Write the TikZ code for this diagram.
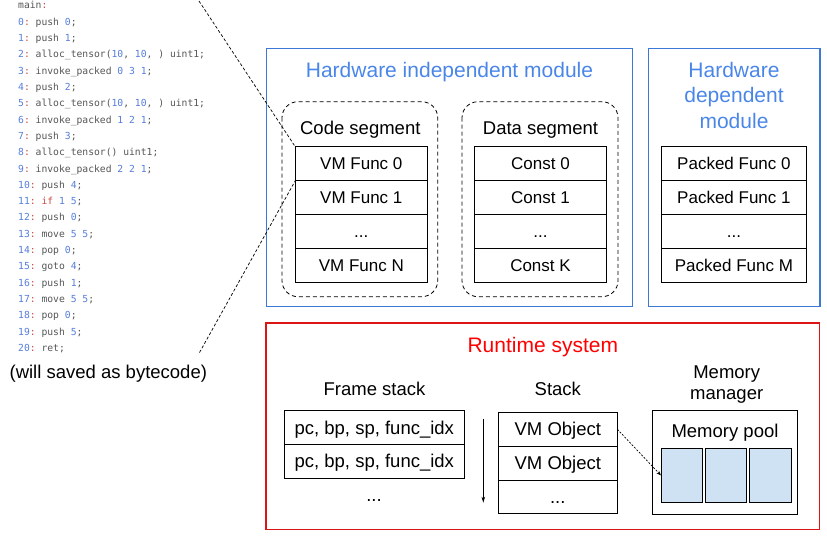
\documentclass[tikz,border=0pt]{standalone}
\usepackage{fontspec}
\setmainfont{Liberation Sans}
\setmonofont{DejaVu Sans Mono}
\usepackage{tikz}
\usetikzlibrary{positioning}
\usetikzlibrary{arrows.meta}

\definecolor{hwblue}{RGB}{60,120,216}
\definecolor{hwtext}{RGB}{74,134,232}
\definecolor{rtred}{RGB}{220,20,20}
\definecolor{poolblue}{RGB}{207,226,243}
\definecolor{codeblue}{RGB}{85,125,220}
\definecolor{codegray}{RGB}{85,85,85}
\definecolor{codered}{RGB}{205,75,75}

\newcommand{\fsz}[2]{\fontsize{#1}{#2}\selectfont}
\newcommand{\lno}[1]{\textcolor{codeblue}{#1}\textcolor{codered}{:}}
\newcommand{\cn}[1]{\textcolor{codeblue}{#1}}

\begin{document}
\begin{tikzpicture}[x=1pt, y=-1pt,
    modbox/.style = {draw=hwblue, line width=1.6pt},
    segbox/.style = {draw, dash pattern=on 4pt off 3pt, rounded corners=16pt, line width=0.8pt},
    cell/.style = {draw, line width=0.8pt, outer sep=0pt, inner sep=0pt, minimum height=33.9pt, text height=12.2pt, text depth=0pt, font=\fsz{17}{20}},
    rtcell/.style = {cell, minimum height=33.8pt, text height=13.2pt, font=\fsz{18.5}{21}},
    poolcell/.style = {draw, fill=poolblue, line width=0.8pt, outer sep=0pt, minimum width=41.3pt, minimum height=54.4pt},
    heading/.style = {anchor=base, font=\fsz{18.5}{21}},
    modtitle/.style = {font=\fsz{21}{25.3}, text=hwtext},
    codeline/.style = {anchor=base west, inner sep=0pt, text=codegray, font=\ttfamily\fsz{9.7}{16.33}},
    link/.style = {dash pattern=on 3pt off 2pt, line width=0.7pt}]
    \useasboundingbox (0,0) rectangle (827,539);

    % bytecode listing
    \foreach \txt [count=\i from 0] in {
        {main\textcolor{codered}{:}},
        {\lno{0} push \cn{0};},
        {\lno{1} push \cn{1};},
        {\lno{2} alloc\_tensor(\cn{10}, \cn{10}, ) uint1;},
        {\lno{3} invoke\_packed \cn{0} \cn{3} \cn{1};},
        {\lno{4} push \cn{2};},
        {\lno{5} alloc\_tensor(\cn{10}, \cn{10}, ) uint1;},
        {\lno{6} invoke\_packed \cn{1} \cn{2} \cn{1};},
        {\lno{7} push \cn{3};},
        {\lno{8} alloc\_tensor() uint1;},
        {\lno{9} invoke\_packed \cn{2} \cn{2} \cn{1};},
        {\lno{10} push \cn{4};},
        {\lno{11} \textcolor{codered}{if} \cn{1} \cn{5};},
        {\lno{12} push \cn{0};},
        {\lno{13} move \cn{5} \cn{5};},
        {\lno{14} pop \cn{0};},
        {\lno{15} goto \cn{4};},
        {\lno{16} push \cn{1};},
        {\lno{17} move \cn{5} \cn{5};},
        {\lno{18} pop \cn{0};},
        {\lno{19} push \cn{5};},
        {\lno{20} ret;}}
        \node[codeline] (line\i) at (18, 8.7+16.33*\i) {\txt};
    \node[heading] (note) at (108.3,378) {(will saved as bytecode)};

    % hardware independent module
    \draw[modbox] (266.5,48.5) rectangle (632.5,306.5);
    \node[modtitle, anchor=base] (indep) at (449.5,77.7) {Hardware independent module};
    \draw[segbox] (282,101.7) rectangle (437.7,296.7);
    \draw[segbox] (462,101.7) rectangle (618,296.7);
    \node[heading] (codeseg) at (360.3,134) {Code segment};
    \node[heading] (dataseg) at (540.5,134) {Data segment};
    \node[cell, minimum width=132pt] (vm0) at (361.3,163.7) {VM Func 0};
    \node[cell, minimum width=132pt, below=0pt of vm0] (vm1) {VM Func 1};
    \node[cell, minimum width=132pt, below=0pt of vm1] (vm2) {...};
    \node[cell, minimum width=132pt, below=0pt of vm2] (vm3) {VM Func N};
    \node[cell, minimum width=132.4pt] (const0) at (540.5,163.7) {Const 0};
    \node[cell, minimum width=132.4pt, below=0pt of const0] (const1) {Const 1};
    \node[cell, minimum width=132.4pt, below=0pt of const1] (const2) {...};
    \node[cell, minimum width=132.4pt, below=0pt of const2] (const3) {Const K};

    % hardware dependent module
    \draw[modbox] (648.3,48.5) rectangle (820,306.5);
    \node[modtitle, align=center] (dep) at (734,95.4) {Hardware\\dependent\\module};
    \node[cell, minimum width=144.3pt] (pf0) at (733.9,163.7) {Packed Func 0};
    \node[cell, minimum width=144.3pt, below=0pt of pf0] (pf1) {Packed Func 1};
    \node[cell, minimum width=144.3pt, below=0pt of pf1] (pf2) {...};
    \node[cell, minimum width=144.3pt, below=0pt of pf2] (pf3) {Packed Func M};

    \coordinate (src0) at (199,1);
    \coordinate (src1) at (199.5,352.5);
    \draw[link] (src0) -- (vm0.north west);
    \draw[link] (src1) -- (vm1.north west);

    % runtime system
    \draw[draw=rtred, line width=1.6pt] (266,322.7) rectangle (819.3,529.3);
    \node[modtitle, text=red, anchor=base] (rt) at (542.8,352.3) {Runtime system};
    \node[heading] (frame) at (374.5,395) {Frame stack};
    \node[heading] (stack) at (557.8,395) {Stack};
    \node[heading, anchor=center, align=center] (mm) at (726.7,384.9) {Memory\\manager};
    \node[rtcell, minimum width=180pt] (fr0) at (374.3,427.5) {pc, bp, sp, func\_idx};
    \node[rtcell, minimum width=180pt, below=0pt of fr0] (fr1) {pc, bp, sp, func\_idx};
    \node[heading] (frdots) at (374,501.5) {...};
    \node[rtcell, minimum width=119pt] (so0) at (557.8,429.2) {VM Object};
    \node[rtcell, minimum width=119pt, below=0pt of so0] (so1) {VM Object};
    \node[rtcell, minimum width=119pt, below=0pt of so1] (so2) {...};
    \coordinate (grow0) at (483.3,419.3);
    \coordinate (grow1) at (483.3,502.7);
    \draw[line width=0.7pt, -{Stealth[length=6pt,width=3.5pt]}] (grow0) -- (grow1);
    \node[draw, line width=0.8pt, outer sep=0pt, minimum width=144.6pt, minimum height=103.7pt] (mem) at (725,462.2) {};
    \node[heading] (pool) at (725,437.7) {Memory pool};
    \node[poolcell] (pc1) at (681.7,475.5) {};
    \node[poolcell, right=3pt of pc1] (pc2) {};
    \node[poolcell, right=3pt of pc2] (pc3) {};
    \draw[dash pattern=on 2pt off 1.5pt, line width=0.7pt, -{Stealth[length=5pt,width=3.5pt]}] (so0.east) -- (pc1.west);
\end{tikzpicture}
\end{document}
